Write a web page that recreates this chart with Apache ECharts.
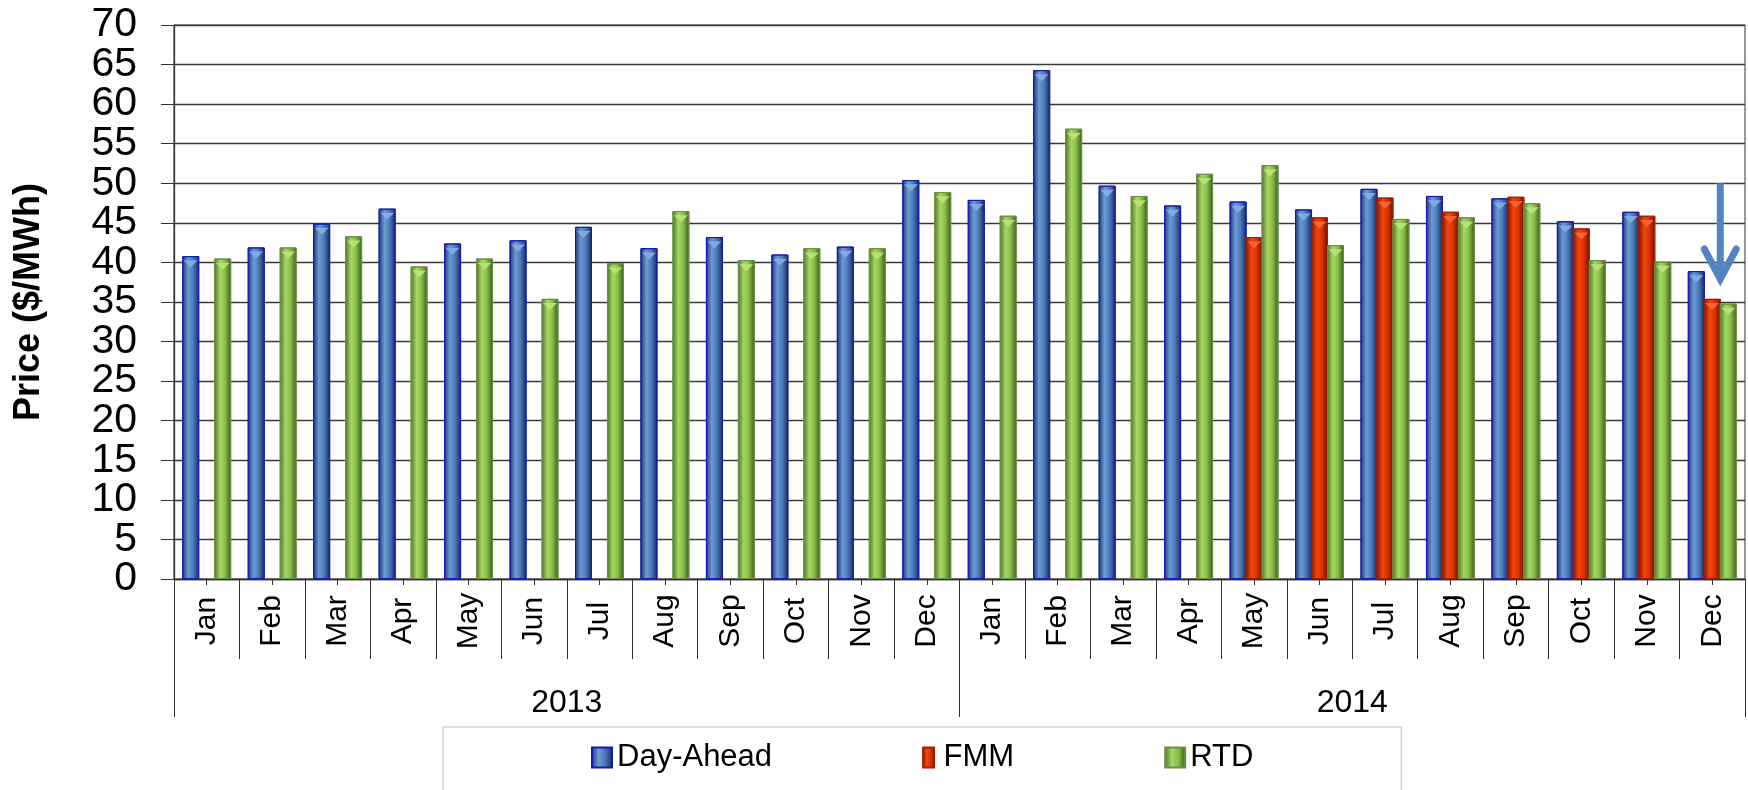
<!DOCTYPE html>
<html>
<head>
<meta charset="utf-8">
<script src="https://cdn.jsdelivr.net/npm/echarts@6/dist/echarts.min.js"></script>
<style>
html, body { margin: 0; padding: 0; background: #fff; }
#priceChart { width: 1748px; height: 790px; }
</style>
</head>
<body>
<div id="priceChart"></div>
<script>
const months = ['Jan','Feb','Mar','Apr','May','Jun','Jul','Aug','Sep','Oct','Nov','Dec',
                'Jan','Feb','Mar','Apr','May','Jun','Jul','Aug','Sep','Oct','Nov','Dec']
const years = ['2013', '2014']
const dayAhead = [40.8, 41.9, 44.9, 46.8, 42.4, 42.8, 44.5, 41.8, 43.2, 41.0, 42.0, 50.4,
                  47.9, 64.3, 49.7, 47.2, 47.7, 46.7, 49.3, 48.4, 48.1, 45.2, 46.4, 38.9]
const fmm = ['-', '-', '-', '-', '-', '-', '-', '-', '-', '-', '-', '-',
             '-', '-', '-', '-', 43.2, 45.7, 48.2, 46.4, 48.3, 44.3, 45.9, 35.4]
const rtd = [40.5, 41.9, 43.3, 39.5, 40.5, 35.4, 39.9, 46.5, 40.3, 41.8, 41.8, 48.9,
             45.9, 56.9, 48.4, 51.2, 52.3, 42.2, 45.5, 45.7, 47.5, 40.3, 40.1, 34.8]
// arrow over Dec 2014, drawn from value to value
const arrowFrom = 50
const arrowTo = 37.4

const font = 'Liberation Sans, Arial, sans-serif'
const axisColor = '#333'
const yLabel = { fontSize: 41, margin: 37, color: '#000', fontFamily: font }

// cylinder-ish shading, dark edges, light middle
const shade = (edge, light, mid, edge2) => new echarts.graphic.LinearGradient(0, 0, 1, 0, [
    { offset: 0, color: edge },
    { offset: 0.35, color: light },
    { offset: 0.65, color: mid },
    { offset: 1, color: edge2 },
])

const barSeries = (name, data, fill, border) => ({
    name: name,
    type: 'bar',
    data: data,
    barWidth: 17,
    barGap: '-6%',
    itemStyle: { color: fill, borderColor: border, borderWidth: 1 },
})

// small light pyramid tip on top of each bar
const capSeries = (name, data, color) => ({
    name: name,
    type: 'pictorialBar',
    data: data,
    barWidth: 17,
    barGap: '-6%',
    symbol: 'path://M0,0L10,0L5,5Z',
    symbolPosition: 'end',
    symbolSize: [14, 7],
    symbolOffset: [0, '60%'],
    z: 3,
    itemStyle: { color: color, opacity: 0.9 },
})

let myChart = echarts.init(document.getElementById('priceChart'))

let option = {
    animation: false,
    textStyle: { fontFamily: font },
    grid: {
        left: 174, right: 3, top: 25, bottom: 211,
        show: true, borderColor: axisColor, borderWidth: 1,
    },
    legend: {
        left: 443,
        top: 727,
        padding: [15, 148, 20, 148],
        borderColor: '#d4d4d4',
        borderWidth: 1.5,
        itemGap: 150,
        itemWidth: 20,
        itemHeight: 20,
        textStyle: { fontSize: 31, color: '#000', fontFamily: font },
        data: [
            { name: 'Day-Ahead', icon: 'rect' },
            { name: 'FMM', icon: 'path://M0,0h11v20h-11z' },
            { name: 'RTD', icon: 'rect' },
        ],
    },
    xAxis: [
        {
            type: 'category',
            position: 'bottom',
            data: months,
            axisLine: { lineStyle: { color: axisColor, width: 1.3 } },
            axisTick: { show: true, interval: 0, length: 80, lineStyle: { color: axisColor } },
            axisLabel: {
                interval: 0, rotate: 90, align: 'center', verticalAlign: 'middle',
                margin: 42, fontSize: 30, color: '#000', fontFamily: font,
            },
        },
        {
            // short ticks at month centres
            type: 'category',
            position: 'bottom',
            data: months,
            axisLine: { show: false },
            axisTick: { show: true, interval: 0, alignWithLabel: true, length: 6, lineStyle: { color: axisColor } },
            axisLabel: { show: false },
        },
        {
            type: 'category',
            position: 'bottom',
            data: years,
            axisLine: { show: false },
            axisTick: { show: true, interval: 0, length: 138, lineStyle: { color: axisColor } },
            axisLabel: { margin: 108, fontSize: 32, color: '#000', fontFamily: font },
        },
    ],
    yAxis: [
        {
            // lines, ticks, grid and the odd fives (5, 15 ... 65)
            type: 'value',
            position: 'left',
            min: 0,
            max: 70,
            interval: 5,
            name: 'Price ($/MWh)',
            nameLocation: 'middle',
            nameGap: 127,
            nameTextStyle: { fontSize: 36, fontWeight: 'bold', color: '#000', fontFamily: font },
            axisLine: { show: true, lineStyle: { color: axisColor, width: 1.3 } },
            axisTick: { show: true, length: 13, lineStyle: { color: axisColor } },
            axisLabel: { ...yLabel, formatter: (v) => (v % 10 === 5 ? String(v) : '') },
            splitLine: { lineStyle: { color: '#3a3a3a', width: 1.3 } },
        },
        {
            // the tens (0, 10 ... 70); split in two so none of the big labels gets dropped
            type: 'value',
            position: 'left',
            min: 0,
            max: 70,
            interval: 10,
            axisLine: { show: false },
            axisTick: { show: false },
            splitLine: { show: false },
            axisLabel: { ...yLabel },
        },
    ],
    series: [
        barSeries('Day-Ahead', dayAhead, shade('#1c3670', '#6b9bd6', '#4a78b6', '#142a5c'), '#1818b0'),
        barSeries('FMM', fmm, shade('#7a1600', '#f5450c', '#dc3200', '#661000'), '#a02000'),
        barSeries('RTD', rtd, shade('#4a7220', '#a6d863', '#86bc44', '#38561a'), '#6d8f4a'),
        capSeries('Day-Ahead top', dayAhead, '#86aee6'),
        capSeries('FMM top', fmm, '#f66a3a'),
        capSeries('RTD top', rtd, '#b9e47c'),
    ],
}
myChart.setOption(option)

// annotation arrow, placed through the axes
let arrowTop = myChart.convertToPixel({ xAxisIndex: 0, yAxisIndex: 0 }, [23, arrowFrom])
let arrowTip = myChart.convertToPixel({ xAxisIndex: 0, yAxisIndex: 0 }, [23, arrowTo])
let ax = arrowTop[0] + 8
myChart.setOption({
    graphic: [
        {
            type: 'line',
            shape: { x1: ax, y1: arrowTop[1], x2: ax, y2: arrowTip[1] - 4 },
            style: { stroke: '#5283c2', lineWidth: 7 },
        },
        {
            type: 'polyline',
            shape: { points: [[ax - 16, arrowTip[1] - 34], [ax, arrowTip[1] - 4], [ax + 16, arrowTip[1] - 34]] },
            style: { stroke: '#5283c2', lineWidth: 7, fill: null, lineJoin: 'miter', lineCap: 'round' },
        },
    ],
})
</script>
</body>
</html>
